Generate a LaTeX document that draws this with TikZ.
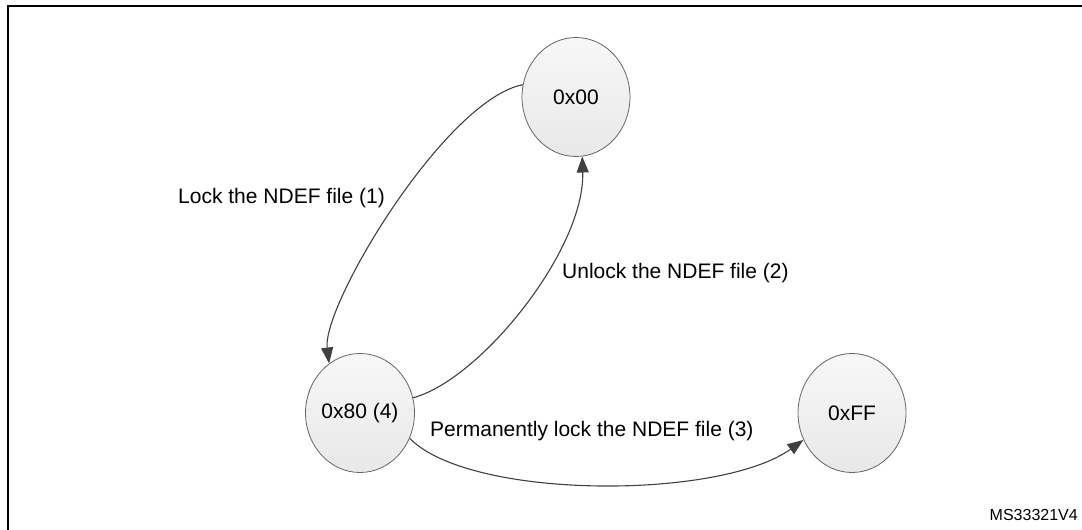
\documentclass[tikz,border=0pt]{standalone}
\usepackage{fontspec}
\setmainfont{Liberation Sans}
\usetikzlibrary{arrows.meta,shapes.geometric}
\tikzset{
	state/.style={ellipse, draw=black!60, line width=0.8pt,
		top color=black!3, bottom color=black!9,
		minimum width=108pt, minimum height=119pt, inner sep=0pt,
		font=\fontsize{21}{25}\selectfont},
	trans/.style={draw=black!75, line width=1.1pt,
		-{Triangle[length=16pt,width=12pt]}},
	lbl/.style={inner sep=0pt, font=\fontsize{21}{25}\selectfont},
}
\begin{document}
\begin{tikzpicture}[x=1pt,y=-1pt]
	\useasboundingbox (0,0) rectangle (1082,530);
	%% frame
	\draw[line width=2.2pt] (8,530) -- (8,6) -- (1082,6);
	%% states
	\node[state] (s00) at (576,97) {0x00};
	\node[state] (s80) at (360,413) {0x80 (4)};
	\node[state] (sFF) at (852,413) {0xFF};
	%% transitions
	\draw[trans] (s00.167) .. controls (445,100) and (322,305) .. (s80.122);
	\draw[trans] (s80.16) .. controls (480,380) and (585,250) .. (s00.276);
	\draw[trans] (s80.-27) .. controls (470,500) and (720,500) .. (sFF.209);
	%% labels
	\node[lbl, anchor=base east] (lock) at (385,203) {Lock the NDEF file (1)};
	\node[lbl, anchor=base west] (unlock) at (562,278) {Unlock the NDEF file (2)};
	\node[lbl, anchor=base west] (perm) at (430,436) {Permanently lock the NDEF file (3)};
	\node[lbl, anchor=base east, font=\fontsize{16}{19}\selectfont] (ref) at (1078,520) {MS33321V4};
\end{tikzpicture}
\end{document}
